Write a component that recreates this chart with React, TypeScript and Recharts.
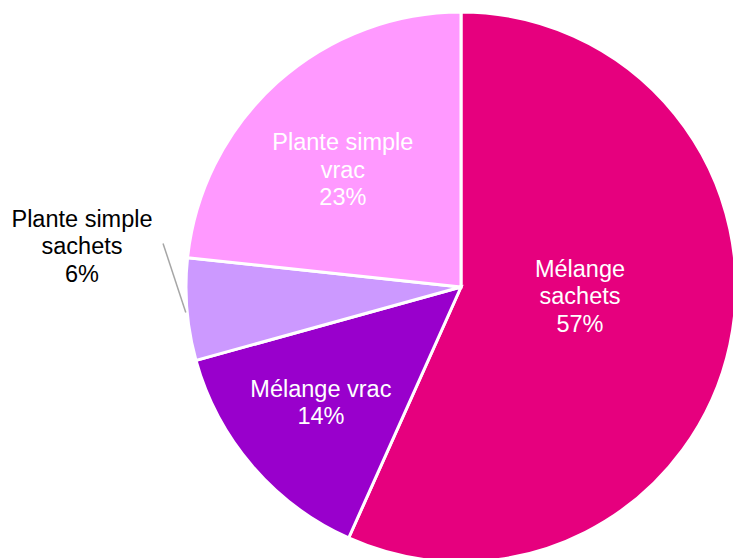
import React from "react";
import { Cell, Pie, PieChart } from "recharts";

const categories = ["Mélange sachets", "Mélange vrac", "Plante simple sachets", "Plante simple vrac"];
const shares = [56.7, 14.0, 6.0, 23.3];
const labelLines = [["Mélange", "sachets"], ["Mélange vrac"], ["Plante simple", "sachets"], ["Plante simple", "vrac"]];

const COLORS = ["#E6007E", "#9900CC", "#CC99FF", "#FF99FF"];
// label placement: radius as fraction of outerRadius, angle offset from midAngle
const LABEL_POS = [
  { r: 0.434, da: 7.7, color: "#fff" },
  { r: 0.66, da: -1.2, color: "#fff" },
  { r: 1.386, da: -10.8, color: "#000" },
  { r: 0.605, da: 3.3, color: "#fff" },
];

const data = categories.map((name, i) => ({ name, value: shares[i] }));
const RAD = Math.PI / 180;
const FONT = "'Liberation Sans', Arial, sans-serif";

function renderLabel(props: any) {
  const { cx, cy, midAngle, outerRadius, percent, index } = props;
  const pos = LABEL_POS[index];
  const a = (midAngle + pos.da) * RAD;
  const x = cx + outerRadius * pos.r * Math.cos(a);
  const y = cy - outerRadius * pos.r * Math.sin(a);
  const lines = [...labelLines[index], `${Math.round(percent * 100)}%`];
  const lh = 27.5;
  const y0 = y - ((lines.length - 1) * lh) / 2;
  let leader = null;
  if (pos.r > 1) {
    const s = (midAngle + 0.6) * RAD;
    const e = (midAngle - 13) * RAD;
    leader = (
      <line
        x1={cx + outerRadius * 1.005 * Math.cos(s)}
        y1={cy - outerRadius * 1.005 * Math.sin(s)}
        x2={cx + outerRadius * 1.095 * Math.cos(e)}
        y2={cy - outerRadius * 1.095 * Math.sin(e)}
        stroke="#A6A6A6"
        strokeWidth={1.5}
      />
    );
  }
  return (
    <g key={`lbl-${index}`}>
      {leader}
      <text x={x} y={y0} fill={pos.color} textAnchor="middle" dominantBaseline="central" fontFamily={FONT} fontSize={23.5}>
        {lines.map((t, i) => (
          <tspan key={i} x={x} y={y0 + i * lh}>
            {t}
          </tspan>
        ))}
      </text>
    </g>
  );
}

export default function App() {
  return (
    <div style={{ position: "absolute", left: 0, top: 0, width: 733, height: 558, overflow: "hidden", background: "#fff" }}>
      <PieChart width={733} height={558} margin={{ top: 0, right: 0, bottom: 0, left: 0 }}>
        <Pie
          data={data}
          dataKey="value"
          nameKey="name"
          cx={461}
          cy={287}
          outerRadius={275}
          startAngle={90}
          endAngle={-270}
          stroke="#fff"
          strokeWidth={3}
          label={renderLabel}
          labelLine={false}
          isAnimationActive={false}
        >
          {data.map((_, i) => (
            <Cell key={i} fill={COLORS[i]} />
          ))}
        </Pie>
      </PieChart>
    </div>
  );
}
